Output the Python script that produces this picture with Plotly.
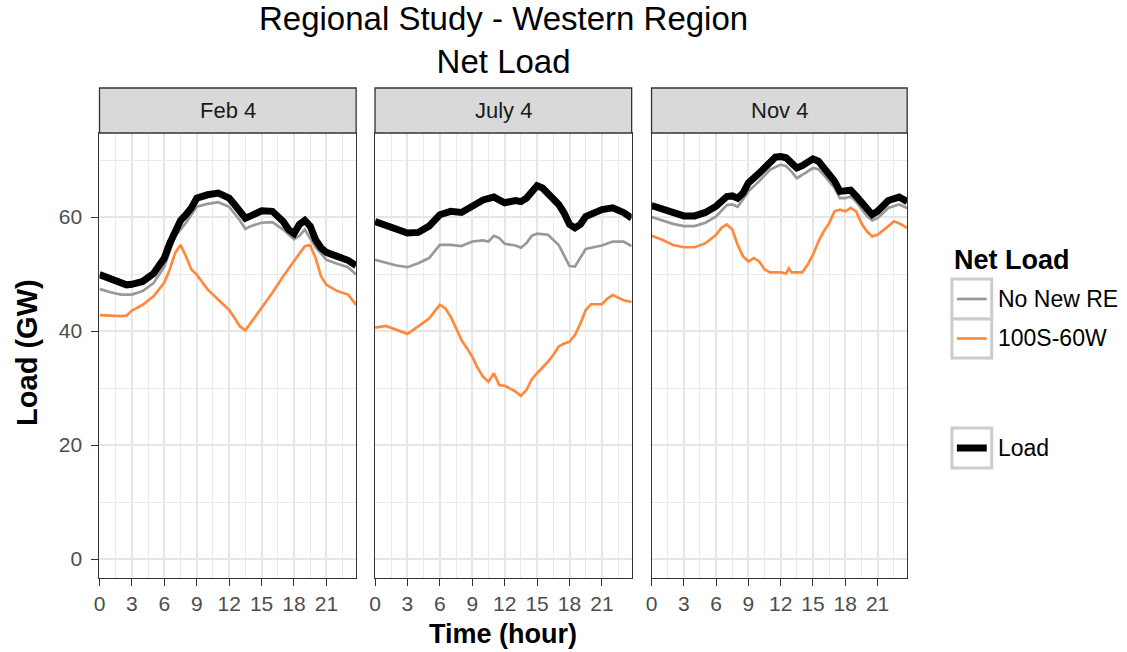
import plotly.graph_objects as go

W, H = 1127, 652

panels = ["Feb 4", "July 4", "Nov 4"]
series_names = ["No New RE", "100S-60W", "Load"]

# ---- Feb 4 ----
feb_load_h = [0, 1, 2, 2.5, 3, 4, 5, 6, 6.5, 7, 7.5, 8, 8.5, 9, 9.5, 10, 11, 11.5, 12, 12.5, 13, 13.5, 14, 14.5,
              15, 16, 16.5, 17, 17.5, 18, 18.5, 19, 19.5, 20, 20.5, 21, 22, 22.5, 23, 23.75]
feb_load = [49.9, 49.2, 48.5, 48.1, 48.2, 48.7, 50.1, 52.8, 55.4, 57.8, 59.4, 60.4, 61.6, 63.3, 63.7, 63.9, 64.2,
            63.9, 63.3, 62.2, 61.0, 59.8, 60.2, 60.8, 61.1, 61.0, 60.1, 59.2, 57.8, 57.1, 58.7, 59.4, 58.4, 56.0,
            54.6, 53.8, 53.1, 52.8, 52.4, 51.5]
feb_base_h = [0, 1, 2, 3, 4, 5, 6, 7, 8, 9, 10, 11, 12, 13, 13.5, 14, 15, 16, 17, 18, 18.5, 19, 20, 21, 22, 23, 23.75]
feb_base = [47.4, 46.8, 46.4, 46.4, 47.0, 48.4, 51.3, 56.6, 59.0, 61.8, 62.3, 62.6, 61.8, 59.4, 57.9, 58.4, 59.0,
            59.1, 57.8, 56.1, 56.7, 57.8, 54.7, 52.5, 51.8, 51.2, 49.9]
feb_re_h = [0, 1, 2, 2.5, 3, 4, 5, 6, 6.5, 7, 7.5, 8, 8.5, 9, 10, 11, 12, 12.5, 13, 13.5, 14, 15, 16, 17, 18, 18.5,
            19, 19.5, 20, 20.5, 21, 22, 23, 23.75]
feb_re = [42.8, 42.7, 42.6, 42.7, 43.6, 44.6, 46.1, 48.5, 50.8, 53.7, 55.1, 53.1, 50.8, 49.9, 47.3, 45.5, 43.7,
          42.3, 40.8, 40.1, 41.4, 44.0, 46.7, 49.6, 52.2, 53.7, 54.9, 55.1, 52.8, 49.6, 48.1, 47.0, 46.4, 44.6]

# ---- July 4 ----
jul_load_h = [0, 1, 2, 3, 4, 5, 6, 7, 8, 9, 10, 11, 11.5, 12, 13, 13.5, 14, 14.5, 15, 15.5, 16, 17, 17.5, 18,
              18.5, 19, 19.5, 20, 21, 22, 23, 23.75]
jul_load = [59.2, 58.5, 57.8, 57.2, 57.3, 58.4, 60.4, 61.0, 60.8, 61.9, 63.0, 63.5, 63.0, 62.5, 62.9, 62.7, 63.3,
            64.5, 65.5, 65.1, 64.2, 62.2, 60.7, 58.7, 58.1, 58.7, 60.1, 60.6, 61.3, 61.6, 60.8, 59.8]
jul_base_h = [0, 1, 2, 3, 4, 5, 6, 7, 8, 9, 10, 10.5, 11, 11.5, 12, 13, 13.5, 14, 14.5, 15, 16, 17, 17.5, 18, 18.5,
              19, 19.5, 20, 21, 22, 23, 23.75]
jul_base = [52.5, 52.0, 51.5, 51.2, 51.9, 52.8, 55.1, 55.1, 54.9, 55.7, 55.9, 55.7, 56.7, 56.3, 55.3, 55.0, 54.6,
            55.4, 56.7, 57.1, 56.9, 55.1, 53.3, 51.4, 51.3, 52.8, 54.4, 54.6, 55.0, 55.7, 55.7, 54.9]
jul_re_h = [0, 1, 2, 3, 4, 5, 5.5, 6, 6.5, 7, 7.5, 8, 8.5, 9, 9.5, 10, 10.5, 11, 11.5, 12, 12.5, 13, 13.5, 14, 14.5,
            15, 16, 16.5, 17, 17.5, 18, 18.5, 19, 19.5, 20, 21, 21.5, 22, 23, 23.75]
jul_re = [40.6, 40.9, 40.2, 39.5, 40.8, 42.2, 43.4, 44.6, 44.0, 42.5, 40.5, 38.4, 37.0, 35.5, 33.5, 32.0, 31.1,
          32.6, 30.5, 30.4, 29.9, 29.4, 28.6, 29.6, 31.5, 32.6, 34.6, 35.8, 37.3, 37.8, 38.1, 39.3, 41.3, 43.7,
          44.7, 44.7, 45.7, 46.3, 45.4, 45.1]

# ---- Nov 4 ----
nov_load_h = [0, 1, 2, 3, 4, 5, 6, 7, 7.5, 8, 8.5, 9, 10, 11, 11.5, 12, 12.5, 13, 13.5, 14, 14.5, 15, 15.5, 16, 17,
              17.5, 18, 18.5, 19, 20, 20.5, 21, 22, 23, 23.75]
nov_load = [62.0, 61.3, 60.7, 60.2, 60.2, 60.8, 61.9, 63.6, 63.7, 63.3, 64.2, 66.0, 67.7, 69.5, 70.5, 70.6, 70.4,
            69.5, 68.6, 69.0, 69.8, 70.2, 69.8, 68.6, 66.3, 64.5, 64.5, 64.7, 63.7, 61.3, 60.4, 61.0, 62.9, 63.5,
            62.7]
nov_base_h = [0, 1, 2, 3, 4, 5, 6, 7, 7.5, 8, 9, 10, 11, 12, 12.5, 13, 13.5, 14, 15, 15.5, 16, 17, 17.5, 18, 18.5,
              19, 20, 20.5, 21, 22, 23, 23.75]
nov_base = [60.0, 59.4, 58.8, 58.4, 58.4, 59.0, 60.1, 62.1, 62.2, 61.8, 64.5, 66.3, 68.3, 69.2, 68.9, 68.0, 66.8,
            67.4, 68.6, 68.4, 67.4, 65.1, 63.3, 63.3, 63.6, 62.7, 60.2, 59.4, 59.8, 61.6, 62.2, 61.6]
nov_re_h = [0, 1, 2, 3, 4, 5, 6, 6.5, 7, 7.5, 8, 8.5, 9, 9.5, 10, 10.5, 11, 12, 12.5, 12.75, 13, 14, 14.5, 15, 15.5,
            16, 16.5, 17, 17.5, 18, 18.5, 19, 19.5, 20, 20.5, 21, 22, 22.5, 23, 23.75]
nov_re = [56.7, 56.0, 55.1, 54.7, 54.7, 55.4, 56.9, 58.1, 58.7, 57.8, 55.1, 53.1, 52.2, 52.8, 52.2, 50.8, 50.3,
          50.3, 50.1, 51.0, 50.3, 50.3, 51.6, 53.4, 55.7, 57.5, 58.9, 61.0, 61.3, 61.0, 61.6, 61.0, 58.9, 57.5,
          56.6, 56.9, 58.4, 59.2, 58.9, 58.1]

x_ticks = [0, 3, 6, 9, 12, 15, 18, 21]
y_ticks = [0, 20, 40, 60]

panel_data = [
    {"No New RE": (feb_base_h, feb_base), "100S-60W": (feb_re_h, feb_re), "Load": (feb_load_h, feb_load)},
    {"No New RE": (jul_base_h, jul_base), "100S-60W": (jul_re_h, jul_re), "Load": (jul_load_h, jul_load)},
    {"No New RE": (nov_base_h, nov_base), "100S-60W": (nov_re_h, nov_re), "Load": (nov_load_h, nov_load)},
]

colors = {"No New RE": "#999999", "100S-60W": "#ff8a3d", "Load": "#000000"}
widths = {"No New RE": 2.7, "100S-60W": 2.7, "Load": 7}


def fx(px):
    return px / W


def fy(py):
    return 1 - py / H


# panel pixel extents
panel_x = [(94, 352), (371, 629), (649, 906)]
plot_top, plot_bot, strip_top = 133, 578, 88

fig = go.Figure()

for i, data in enumerate(panel_data):
    suffix = "" if i == 0 else str(i + 1)
    for name in series_names:
        hx, vy = data[name]
        fig.add_trace(go.Scatter(
            x=hx, y=vy, mode="lines", name=name, showlegend=False,
            line=dict(color=colors[name], width=widths[name]),
            xaxis="x" + suffix, yaxis="y" + suffix,
        ))

grid_major = "#e6e6e6"
grid_minor = "#ebebeb"
border = "#333333"
tickfont = dict(family="Liberation Sans, Arial, sans-serif", size=21, color="#4d4d4d")

layout = dict(
    width=W, height=H,
    margin=dict(l=0, r=0, t=0, b=0),
    paper_bgcolor="white", plot_bgcolor="white",
    showlegend=False,
    font=dict(family="Liberation Sans, Arial, sans-serif", color="#000000"),
)

for i, (x0, x1) in enumerate(panel_x):
    suffix = "" if i == 0 else str(i + 1)
    layout["xaxis" + suffix] = dict(
        domain=[fx(x0), fx(x1)], range=[0, 23.75], anchor="y" + suffix,
        tickvals=x_ticks, ticks="outside", ticklen=7, tickwidth=1.3, tickcolor=border,
        tickfont=tickfont, showgrid=True, gridcolor=grid_major, gridwidth=1.6,
        minor=dict(dtick=1.5, tick0=0, showgrid=True, gridcolor=grid_minor, gridwidth=1.4),
        showline=True, linecolor=border, linewidth=1.3, mirror=True, zeroline=False,
    )
    layout["yaxis" + suffix] = dict(
        domain=[fy(plot_bot), fy(plot_top)], range=[-3.33, 74.74], anchor="x" + suffix,
        tickvals=y_ticks, ticks="outside" if i == 0 else "", ticklen=7, tickwidth=1.3, tickcolor=border,
        showticklabels=(i == 0), tickfont=tickfont, ticklabelstandoff=5,
        showgrid=True, gridcolor=grid_major, gridwidth=1.6,
        minor=dict(dtick=10, tick0=0, showgrid=True, gridcolor=grid_minor, gridwidth=1.4),
        showline=True, linecolor=border, linewidth=1.3, mirror=True, zeroline=False,
    )

shapes = []
annotations = []

# facet strips
for (x0, x1), label in zip(panel_x, panels):
    shapes.append(dict(type="rect", xref="paper", yref="paper",
                       x0=fx(x0), x1=fx(x1), y0=fy(plot_top), y1=fy(strip_top),
                       fillcolor="#d9d9d9", line=dict(color=border, width=1.3)))
    annotations.append(dict(xref="paper", yref="paper", x=fx((x0 + x1) / 2), y=fy((plot_top + strip_top) / 2),
                            text=label, showarrow=False, xanchor="center", yanchor="middle",
                            font=dict(size=22, color="#1a1a1a")))

# title
annotations.append(dict(xref="paper", yref="paper", x=fx(500), y=fy(40),
                        text="Regional Study - Western Region<br>Net Load", showarrow=False,
                        xanchor="center", yanchor="middle", font=dict(size=33, color="#000000")))

# axis titles
annotations.append(dict(xref="paper", yref="paper", x=fx(500), y=fy(634), text="<b>Time (hour)</b>",
                        showarrow=False, xanchor="center", yanchor="middle", font=dict(size=27)))
annotations.append(dict(xref="paper", yref="paper", x=fx(21), y=fy(352), text="<b>Load (GW)</b>",
                        showarrow=False, xanchor="center", yanchor="middle", textangle=-90,
                        font=dict(size=29)))

# legend
annotations.append(dict(xref="paper", yref="paper", x=fx(951), y=fy(260), text="<b>Net Load</b>",
                        showarrow=False, xanchor="left", yanchor="middle", font=dict(size=27)))
legend_items = [("No New RE", 279, 319), ("100S-60W", 319, 358), ("Load", 428, 468)]
for name, ytop, ybot in legend_items:
    shapes.append(dict(type="rect", xref="paper", yref="paper",
                       x0=fx(951), x1=fx(991), y0=fy(ybot), y1=fy(ytop),
                       fillcolor="white", line=dict(color="#cccccc", width=3)))
    ym = (ytop + ybot) / 2
    shapes.append(dict(type="line", xref="paper", yref="paper",
                       x0=fx(956), x1=fx(986), y0=fy(ym), y1=fy(ym),
                       line=dict(color=colors[name], width=widths[name])))
    annotations.append(dict(xref="paper", yref="paper", x=fx(995), y=fy(ym), text=name,
                            showarrow=False, xanchor="left", yanchor="middle",
                            font=dict(size=23, color="#000000")))

layout["shapes"] = shapes
layout["annotations"] = annotations
fig.update_layout(**layout)

fig.write_html("out.html")
